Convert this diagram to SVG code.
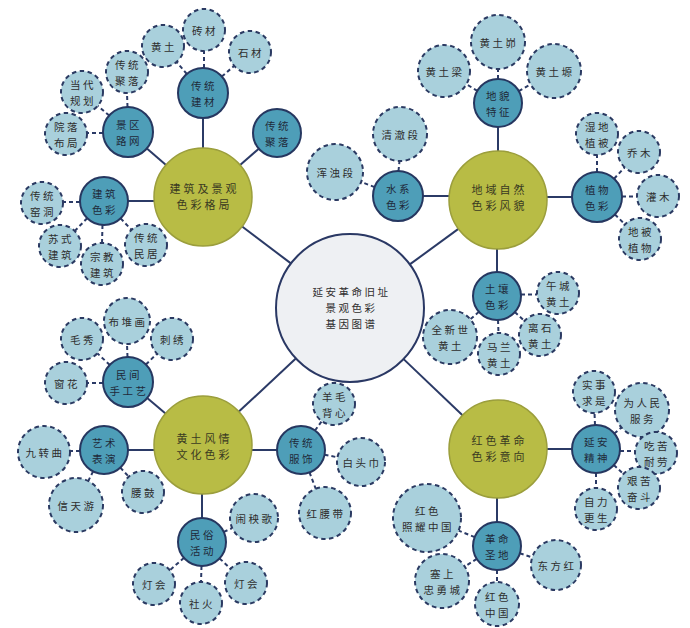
<svg xmlns="http://www.w3.org/2000/svg" width="690" height="628" viewBox="0 0 690 628">
<style>
text{font-family:"Noto Sans CJK SC","Noto Sans CJK JP",sans-serif;font-size:10.5px;text-anchor:middle;dominant-baseline:central;letter-spacing:2.5px;fill:#2e2e2e}
.ctr{fill:#eef0f3;stroke:#2a3864;stroke-width:2}
.ol{fill:#b8bc45;stroke:#9b9e3c;stroke-width:1.5}
.sub{fill:#4e9eb8;stroke:#263760;stroke-width:2}
.lf{fill:#a9d0dc;stroke:#2b3a62;stroke-width:2;stroke-dasharray:4.5 3.5}
.ln{stroke:#2b3a66;stroke-width:2;fill:none}
.dl{stroke:#2b3a66;stroke-width:2;fill:none;stroke-dasharray:4 3}
.st{fill:#1f2a3a}
.ot{fill:#3a3a22;font-size:11px;letter-spacing:3px}
</style>
<rect width="690" height="628" fill="#ffffff"/>
<g id="connectors">
<line class="ln" x1="290.9" y1="263.4" x2="242.1" y2="226.5"/>
<line class="ln" x1="409.8" y1="264.4" x2="458.4" y2="228.9"/>
<line class="ln" x1="295.8" y1="358.5" x2="238.9" y2="411.6"/>
<line class="ln" x1="403.6" y1="359.1" x2="462.5" y2="415.2"/>
<line class="ln" x1="203" y1="148" x2="203" y2="118"/>
<line class="ln" x1="166" y1="164.9" x2="146.9" y2="148.4"/>
<line class="ln" x1="240.1" y1="164.9" x2="258.8" y2="148.7"/>
<line class="ln" x1="154.2" y1="201" x2="128" y2="201"/>
<line class="ln" x1="498" y1="151" x2="498" y2="127"/>
<line class="ln" x1="449.2" y1="196" x2="423" y2="196"/>
<line class="ln" x1="546.9" y1="197" x2="572" y2="197"/>
<line class="ln" x1="497" y1="249" x2="497" y2="272"/>
<line class="ln" x1="165.5" y1="413.5" x2="147.2" y2="398.1"/>
<line class="ln" x1="154.3" y1="450" x2="128" y2="450"/>
<line class="ln" x1="202" y1="494" x2="202" y2="518"/>
<line class="ln" x1="251.7" y1="450" x2="277" y2="450"/>
<line class="ln" x1="547" y1="449" x2="572" y2="449"/>
<line class="ln" x1="497" y1="498" x2="497" y2="522"/>
<line class="dl" x1="186.8" y1="74" x2="176.6" y2="62"/>
<line class="dl" x1="204" y1="68" x2="204" y2="51"/>
<line class="dl" x1="221.8" y1="76.6" x2="234.2" y2="65.8"/>
<line class="dl" x1="127.5" y1="107" x2="127" y2="93"/>
<line class="dl" x1="109.2" y1="115.6" x2="97.8" y2="105.8"/>
<line class="dl" x1="103" y1="133" x2="87" y2="133"/>
<line class="dl" x1="80" y1="202" x2="63" y2="202"/>
<line class="dl" x1="87.2" y1="218.2" x2="74.7" y2="231"/>
<line class="dl" x1="102.5" y1="225" x2="102" y2="243"/>
<line class="dl" x1="120.6" y1="218.4" x2="131.5" y2="229.8"/>
<line class="dl" x1="498" y1="79" x2="498" y2="69"/>
<line class="dl" x1="477.4" y1="90.8" x2="466.4" y2="84.3"/>
<line class="dl" x1="518.8" y1="91.1" x2="530.6" y2="84.4"/>
<line class="dl" x1="398.5" y1="171" x2="399.5" y2="161"/>
<line class="dl" x1="374.6" y1="187.1" x2="361.2" y2="182"/>
<line class="dl" x1="597" y1="172" x2="597" y2="155"/>
<line class="dl" x1="614.1" y1="178.7" x2="624.7" y2="167.3"/>
<line class="dl" x1="622" y1="196.5" x2="637" y2="196.5"/>
<line class="dl" x1="614.9" y1="214.5" x2="625" y2="224.3"/>
<line class="dl" x1="521" y1="294.5" x2="537" y2="294.5"/>
<line class="dl" x1="514.8" y1="312.1" x2="524.4" y2="320.9"/>
<line class="dl" x1="498" y1="320" x2="498.5" y2="333"/>
<line class="dl" x1="478.9" y1="311.8" x2="470.3" y2="319.3"/>
<line class="dl" x1="127.5" y1="357" x2="127" y2="344"/>
<line class="dl" x1="109.8" y1="364.9" x2="97.3" y2="353.3"/>
<line class="dl" x1="145.9" y1="364.5" x2="157" y2="353.7"/>
<line class="dl" x1="103" y1="383" x2="87" y2="383"/>
<line class="dl" x1="80" y1="451" x2="70" y2="451"/>
<line class="dl" x1="93.1" y1="471.4" x2="88.3" y2="480.9"/>
<line class="dl" x1="120.3" y1="467.6" x2="128.7" y2="476.6"/>
<line class="dl" x1="223.8" y1="531.9" x2="232.2" y2="528.1"/>
<line class="dl" x1="184" y1="557.8" x2="169.8" y2="570.2"/>
<line class="dl" x1="201.5" y1="566" x2="201" y2="582"/>
<line class="dl" x1="219.6" y1="558.4" x2="230.6" y2="568.7"/>
<line class="dl" x1="315" y1="430.5" x2="321.8" y2="421.1"/>
<line class="dl" x1="324.5" y1="454.7" x2="337.5" y2="457.3"/>
<line class="dl" x1="309.5" y1="472.4" x2="315.7" y2="488.7"/>
<line class="dl" x1="595" y1="425" x2="594.5" y2="413"/>
<line class="dl" x1="614.3" y1="433.5" x2="621.4" y2="427.5"/>
<line class="dl" x1="620" y1="451" x2="635" y2="451"/>
<line class="dl" x1="613.8" y1="465.1" x2="623.4" y2="473.9"/>
<line class="dl" x1="596" y1="473" x2="596" y2="488"/>
<line class="dl" x1="474.7" y1="537.1" x2="458.6" y2="530.6"/>
<line class="dl" x1="519.8" y1="553.3" x2="532.2" y2="557.3"/>
<line class="dl" x1="476.7" y1="558.9" x2="464.8" y2="566.5"/>
<line class="dl" x1="497" y1="570" x2="497" y2="582"/>
</g>
<g id="center"><circle class="ctr" cx="350" cy="308" r="74"/><text x="351.5" y="291.5">延安革命旧址<tspan x="351.5" dy="15.5">景观色彩</tspan><tspan x="351.5" dy="15.5">基因图谱</tspan></text></g>
<g id="o1"><circle class="ol" cx="203" cy="197" r="49"/><text class="ot" x="204.5" y="188">建筑及景观<tspan x="204.5" dy="16">色彩格局</tspan></text></g>
<g id="o2"><circle class="ol" cx="498" cy="200" r="49"/><text class="ot" x="499.5" y="189">地域自然<tspan x="499.5" dy="16">色彩风貌</tspan></text></g>
<g id="o3"><circle class="ol" cx="203" cy="445" r="49"/><text class="ot" x="204.5" y="438">黄土风情<tspan x="204.5" dy="16">文化色彩</tspan></text></g>
<g id="o4"><circle class="ol" cx="498" cy="449" r="49"/><text class="ot" x="499.5" y="440">红色革命<tspan x="499.5" dy="16">色彩意向</tspan></text></g>
<g id="t1"><circle class="sub" cx="203" cy="93" r="25"/><text class="st" x="204" y="85">传统<tspan x="204" dy="15.5">建材</tspan></text></g>
<g id="t2"><circle class="sub" cx="128" cy="132" r="25"/><text class="st" x="129" y="124">景区<tspan x="129" dy="15.5">路网</tspan></text></g>
<g id="t3"><circle class="sub" cx="277" cy="133" r="24"/><text class="st" x="278" y="125">传统<tspan x="278" dy="15.5">聚落</tspan></text></g>
<g id="t4"><circle class="sub" cx="104" cy="201" r="24"/><text class="st" x="105" y="193">建筑<tspan x="105" dy="15.5">色彩</tspan></text></g>
<g id="t5"><circle class="sub" cx="498" cy="103" r="24"/><text class="st" x="499" y="95">地貌<tspan x="499" dy="15.5">特征</tspan></text></g>
<g id="t6"><circle class="sub" cx="398" cy="196" r="25"/><text class="st" x="399" y="188">水系<tspan x="399" dy="15.5">色彩</tspan></text></g>
<g id="t7"><circle class="sub" cx="597" cy="197" r="25"/><text class="st" x="598" y="189">植物<tspan x="598" dy="15.5">色彩</tspan></text></g>
<g id="t8"><circle class="sub" cx="497" cy="296" r="24"/><text class="st" x="498" y="288">土壤<tspan x="498" dy="15.5">色彩</tspan></text></g>
<g id="t9"><circle class="sub" cx="128" cy="382" r="25"/><text class="st" x="129" y="374">民间<tspan x="129" dy="15.5">手工艺</tspan></text></g>
<g id="t10"><circle class="sub" cx="104" cy="450" r="24"/><text class="st" x="105" y="442">艺术<tspan x="105" dy="15.5">表演</tspan></text></g>
<g id="t11"><circle class="sub" cx="202" cy="542" r="24"/><text class="st" x="203" y="534">民俗<tspan x="203" dy="15.5">活动</tspan></text></g>
<g id="t12"><circle class="sub" cx="301" cy="450" r="24"/><text class="st" x="302" y="442">传统<tspan x="302" dy="15.5">服饰</tspan></text></g>
<g id="t13"><circle class="sub" cx="596" cy="449" r="24"/><text class="st" x="597" y="441">延安<tspan x="597" dy="15.5">精神</tspan></text></g>
<g id="t14"><circle class="sub" cx="497" cy="546" r="24"/><text class="st" x="498" y="538">革命<tspan x="498" dy="15.5">圣地</tspan></text></g>
<g id="l1"><circle class="lf" cx="163" cy="46" r="21"/><text x="164" y="46">黄土</text></g>
<g id="l2"><circle class="lf" cx="204" cy="30" r="21"/><text x="205" y="30">砖材</text></g>
<g id="l3"><circle class="lf" cx="250" cy="52" r="21"/><text x="251" y="52">石材</text></g>
<g id="l4"><circle class="lf" cx="127" cy="72" r="21"/><text x="128" y="64">传统<tspan x="128" dy="15.5">聚落</tspan></text></g>
<g id="l5"><circle class="lf" cx="82" cy="92" r="21"/><text x="83" y="84">当代<tspan x="83" dy="15.5">规划</tspan></text></g>
<g id="l6"><circle class="lf" cx="66" cy="134" r="21"/><text x="67" y="126">院落<tspan x="67" dy="15.5">布局</tspan></text></g>
<g id="l7"><circle class="lf" cx="42" cy="203" r="21"/><text x="43" y="195">传统<tspan x="43" dy="15.5">窑洞</tspan></text></g>
<g id="l8"><circle class="lf" cx="60" cy="246" r="21"/><text x="61" y="238">苏式<tspan x="61" dy="15.5">建筑</tspan></text></g>
<g id="l9"><circle class="lf" cx="102" cy="264" r="21"/><text x="103" y="256">宗教<tspan x="103" dy="15.5">建筑</tspan></text></g>
<g id="l10"><circle class="lf" cx="146" cy="245" r="21"/><text x="147" y="237">传统<tspan x="147" dy="15.5">民居</tspan></text></g>
<g id="l11"><circle class="lf" cx="498" cy="42" r="27"/><text x="499" y="42">黄土峁</text></g>
<g id="l12"><circle class="lf" cx="444" cy="71" r="26"/><text x="445" y="71">黄土梁</text></g>
<g id="l13"><circle class="lf" cx="554" cy="71" r="27"/><text x="555" y="71">黄土塬</text></g>
<g id="l14"><circle class="lf" cx="400" cy="134" r="27"/><text x="401" y="134">清澈段</text></g>
<g id="l15"><circle class="lf" cx="335" cy="172" r="28"/><text x="336" y="172">浑浊段</text></g>
<g id="l16"><circle class="lf" cx="597" cy="134" r="21"/><text x="598" y="126">湿地<tspan x="598" dy="15.5">植被</tspan></text></g>
<g id="l17"><circle class="lf" cx="639" cy="152" r="21"/><text x="640" y="152">乔木</text></g>
<g id="l18"><circle class="lf" cx="658" cy="196" r="21"/><text x="659" y="196">灌木</text></g>
<g id="l19"><circle class="lf" cx="640" cy="239" r="21"/><text x="641" y="231">地被<tspan x="641" dy="15.5">植物</tspan></text></g>
<g id="l20"><circle class="lf" cx="558" cy="293" r="21"/><text x="559" y="285">午城<tspan x="559" dy="15.5">黄土</tspan></text></g>
<g id="l21"><circle class="lf" cx="540" cy="335" r="21"/><text x="541" y="327">离石<tspan x="541" dy="15.5">黄土</tspan></text></g>
<g id="l22"><circle class="lf" cx="499" cy="354" r="21"/><text x="500" y="346">马兰<tspan x="500" dy="15.5">黄土</tspan></text></g>
<g id="l23"><circle class="lf" cx="450" cy="337" r="27"/><text x="451" y="329">全新世<tspan x="451" dy="15.5">黄土</tspan></text></g>
<g id="l24"><circle class="lf" cx="127" cy="321" r="23"/><text x="128" y="321">布堆画</text></g>
<g id="l25"><circle class="lf" cx="82" cy="339" r="21"/><text x="83" y="339">毛秀</text></g>
<g id="l26"><circle class="lf" cx="172" cy="339" r="21"/><text x="173" y="339">刺绣</text></g>
<g id="l27"><circle class="lf" cx="66" cy="383" r="21"/><text x="67" y="383">窗花</text></g>
<g id="l28"><circle class="lf" cx="44" cy="452" r="26"/><text x="45" y="452">九转曲</text></g>
<g id="l29"><circle class="lf" cx="76" cy="505" r="27"/><text x="77" y="505">信天游</text></g>
<g id="l30"><circle class="lf" cx="143" cy="492" r="21"/><text x="144" y="492">腰鼓</text></g>
<g id="l31"><circle class="lf" cx="254" cy="518" r="24"/><text x="255" y="518">闹秧歌</text></g>
<g id="l32"><circle class="lf" cx="154" cy="584" r="21"/><text x="155" y="584">灯会</text></g>
<g id="l33"><circle class="lf" cx="201" cy="603" r="21"/><text x="202" y="603">社火</text></g>
<g id="l34"><circle class="lf" cx="246" cy="583" r="21"/><text x="247" y="583">灯会</text></g>
<g id="l35"><circle class="lf" cx="334" cy="404" r="21"/><text x="335" y="396">羊毛<tspan x="335" dy="15.5">背心</tspan></text></g>
<g id="l36"><circle class="lf" cx="361" cy="462" r="24"/><text x="362" y="462">白头巾</text></g>
<g id="l37"><circle class="lf" cx="325" cy="513" r="26"/><text x="326" y="513">红腰带</text></g>
<g id="l38"><circle class="lf" cx="594" cy="392" r="21"/><text x="595" y="384">实事<tspan x="595" dy="15.5">求是</tspan></text></g>
<g id="l39"><circle class="lf" cx="642" cy="410" r="27"/><text x="643" y="402">为人民<tspan x="643" dy="15.5">服务</tspan></text></g>
<g id="l40"><circle class="lf" cx="656" cy="453" r="21"/><text x="657" y="445">吃苦<tspan x="657" dy="15.5">耐劳</tspan></text></g>
<g id="l41"><circle class="lf" cx="639" cy="488" r="21"/><text x="640" y="480">艰苦<tspan x="640" dy="15.5">奋斗</tspan></text></g>
<g id="l42"><circle class="lf" cx="596" cy="509" r="21"/><text x="597" y="501">自力<tspan x="597" dy="15.5">更生</tspan></text></g>
<g id="l43"><circle class="lf" cx="427" cy="518" r="34"/><text x="428" y="510">红色<tspan x="428" dy="15.5">照耀中国</tspan></text></g>
<g id="l44"><circle class="lf" cx="556" cy="565" r="25"/><text x="557" y="565">东方红</text></g>
<g id="l45"><circle class="lf" cx="442" cy="581" r="27"/><text x="443" y="573">塞上<tspan x="443" dy="15.5">忠勇城</tspan></text></g>
<g id="l46"><circle class="lf" cx="497" cy="604" r="22"/><text x="498" y="596">红色<tspan x="498" dy="15.5">中国</tspan></text></g>
</svg>
